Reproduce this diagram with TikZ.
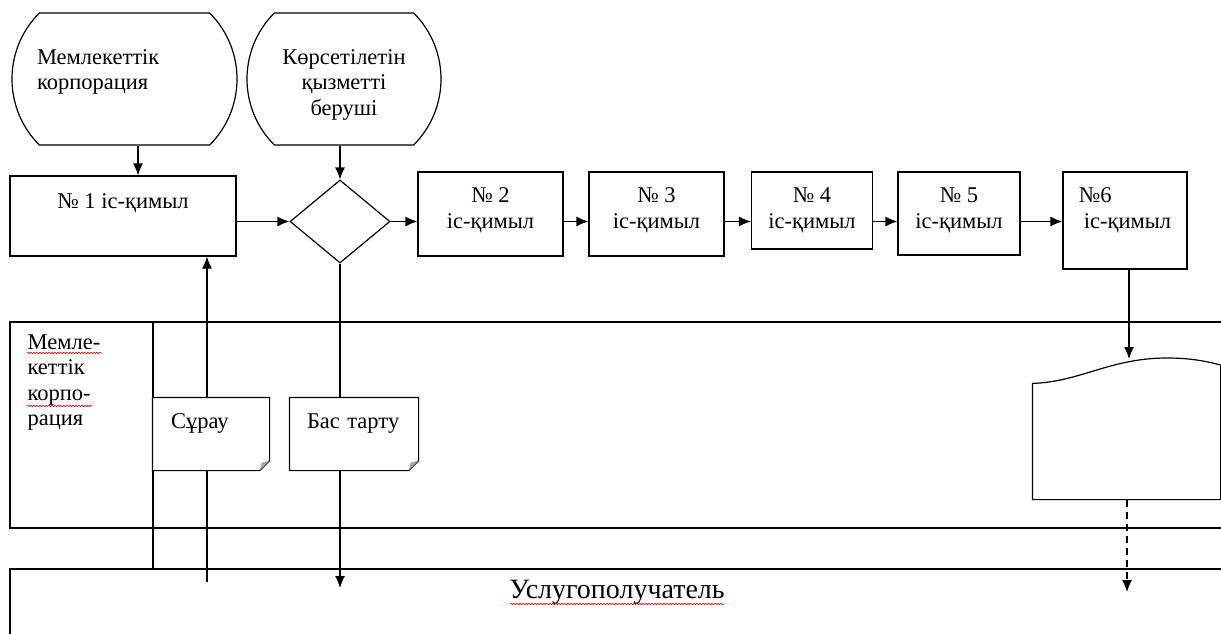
\documentclass[tikz,border=0pt]{standalone}
\usepackage{fontspec}
\setmainfont{Liberation Serif}
\usetikzlibrary{shapes.geometric,shapes.misc,arrows.meta,decorations.pathmorphing}

\tikzset{
  termbox/.style={draw, rounded rectangle, rounded rectangle arc length=90, minimum height=132pt,
    inner sep=0pt, align=center, text height=80pt, text depth=8pt, font=\fontsize{22.5}{25.5}\selectfont},
  actbox/.style={draw, rectangle, inner sep=0pt, align=center, text height=40pt, text depth=12pt,
    font=\fontsize{22.5}{26}\selectfont},
  notebox/.style={rectangle, fill=white, inner sep=0pt, minimum height=72pt, align=left, text width=80pt,
    text height=14pt, text depth=26pt, font=\fontsize{22.5}{26}\selectfont},
  lanetext/.style={inner sep=0pt, align=left, font=\fontsize{22.5}{25.5}\selectfont},
  flow/.style={-{Latex[length=12pt,width=10pt]}},
  spell/.style={red, line width=0.6pt, decorate, decoration={snake, amplitude=0.8pt, segment length=3pt}},
}

\begin{document}
\begin{tikzpicture}[x=1pt, y=-1pt, line width=1.2pt]
  \useasboundingbox (0,0) rectangle (1221,634);

  % Terminals
  \node[termbox, minimum width=225pt, align=left, text width=175pt, text height=14pt, text depth=44pt] (corp) at (124.5,79) {Мемлекеттік\\корпорация};
  \node[termbox, minimum width=194pt] (prov) at (344,79) {Көрсетілетін\\қызметті\\беруші};

  % Actions
  \node[actbox, minimum width=226pt, minimum height=80pt, text height=14pt, text depth=30pt] (act1) at (123,216) {№ 1 іс-қимыл};
  \node[diamond, draw, minimum width=100pt, minimum height=83pt, inner sep=0pt] (dec) at (340,221.5) {};
  \node[actbox, minimum width=145pt, minimum height=84pt] (act2) at (490.5,214) {№ 2\\іс-қимыл};
  \node[actbox, minimum width=135pt, minimum height=84pt] (act3) at (656.5,214) {№ 3\\іс-қимыл};
  \node[actbox, minimum width=121pt, minimum height=77pt, text depth=5pt] (act4) at (812,210.5) {№ 4\\іс-қимыл};
  \node[actbox, minimum width=122pt, minimum height=83pt, text depth=11pt] (act5) at (959,213.5) {№ 5\\іс-қимыл};
  \node[actbox, minimum width=124pt, minimum height=97pt, text depth=25pt, align=left] (act6) at (1125,220.5) {№6\\\hspace*{5pt}іс-қимыл};

  % Lanes
  \draw (1221,322) -- (10,322) -- (10,528) -- (1221,528);
  \draw (153,322) -- (153,569);
  \draw (1221,569) -- (10,569) -- (10,634);
  \node[lanetext, anchor=north west] (lanecorp) at (27,334) {Мемле-\\кеттік\\корпо-\\рация};
  \node[font=\fontsize{28}{30}\selectfont] (client) at (617,592) {Услугополучатель};

  \coordinate (reqend) at (207,582);
  \coordinate (rejend) at (340,588);
  \coordinate (outtop) at (1129,359);
  \coordinate (outend) at (1127,592);
  \node[rectangle, minimum width=187pt, minimum height=115pt, inner sep=0pt] (out) at (1126.5,441.5) {};

  % Connectors
  \draw[flow] ([xshift=13.5pt]corp.south) -- ([xshift=13.5pt]corp.south |- act1.north);
  \draw[flow] (prov.south -| dec.north) -- (dec.north);
  \draw[flow] (act1.east |- dec.west) -- (dec.west);
  \draw[flow] (dec.east) -- (dec.east -| act2.west);
  \draw[flow] (act2.east |- dec) -- (act3.west |- dec);
  \draw[flow] (act3.east |- dec) -- (act4.west |- dec);
  \draw[flow] (act4.east |- dec) -- (act5.west |- dec);
  \draw[flow] (act5.east |- dec) -- (act6.west |- dec);
  \draw[flow] (act6.south -| outtop) -- (outtop);
  \draw[flow] (reqend) -- (reqend |- act1.south);
  \draw[flow] (dec.south) -- (rejend);
  \draw[flow, dash pattern=on 7pt off 5pt] (out.south -| outend) -- (outend);

  % Documents
  \node[notebox, minimum width=116pt] (req) at (211,434) {Сұрау};
  \node[notebox, minimum width=128pt, text width=94pt] (rej) at (354,434) {Бас тарту};
  \foreach \d in {req,rej} {
    \draw (\d.north west) -- (\d.north east) -- ([yshift=10pt]\d.south east)
      -- ([xshift=-10pt]\d.south east) -- (\d.south west) -- cycle;
    \fill[gray!70] ([yshift=10pt]\d.south east) -- ([xshift=-10pt]\d.south east)
      -- ([xshift=-8pt,yshift=8pt]\d.south east) -- cycle;
  }
  \draw (out.north west) .. controls (1080,382) and (1110,358) .. (1167,358)
    .. controls (1190,358) and (1205,361) .. (out.north east |- 0,365)
    -- (out.south east) -- (out.south west) -- cycle;

  % Spelling marks
  \draw[spell] (27,353) -- (102,353);
  \draw[spell] (27,406) -- (92,406);
  \draw[spell] (510,604) -- (724,604);
\end{tikzpicture}
\end{document}
